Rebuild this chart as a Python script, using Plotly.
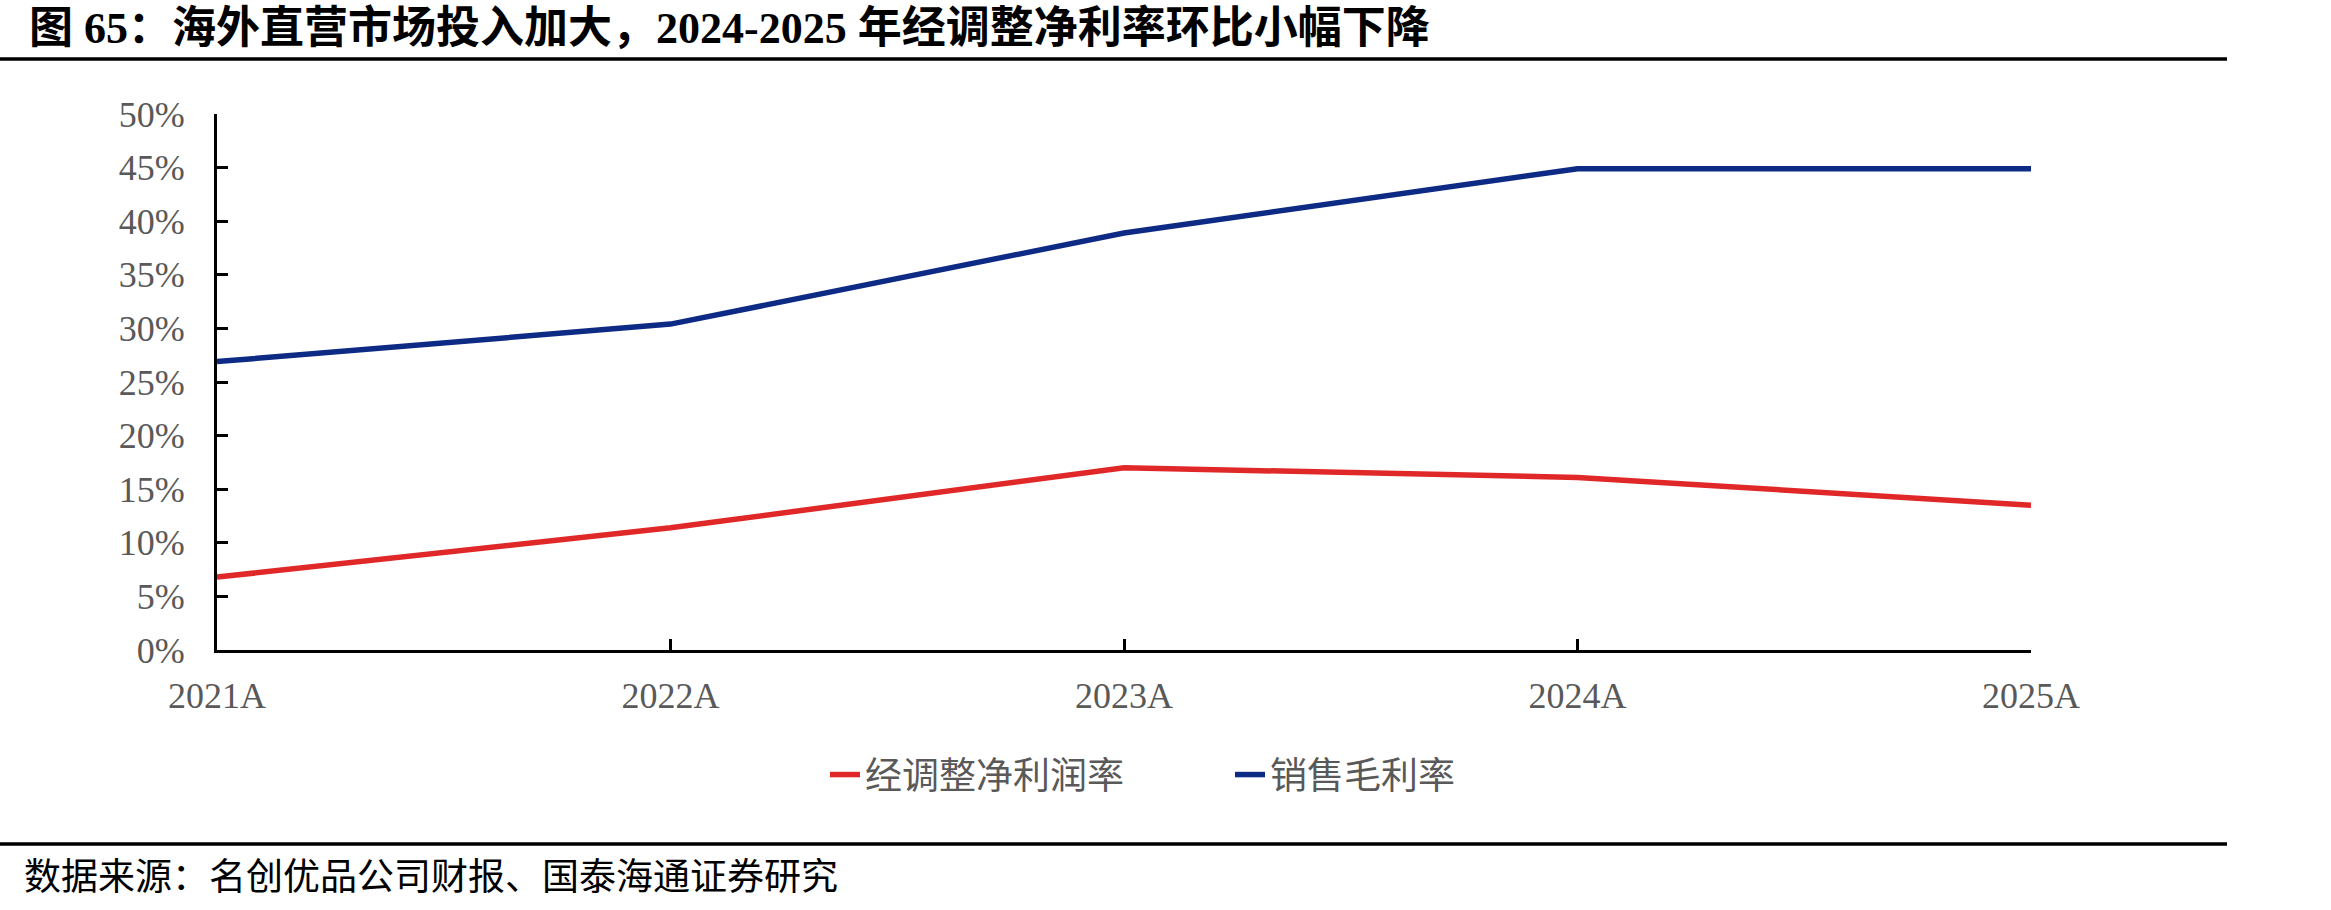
import plotly.graph_objects as go

categories = ["2021A", "2022A", "2023A", "2024A", "2025A"]
adj_net_margin = [6.8, 11.4, 17.0, 16.1, 13.5]   # 经调整净利润率 (%)
gross_margin = [26.9, 30.4, 38.9, 44.9, 44.9]    # 销售毛利率 (%)
y_ticks = [0, 5, 10, 15, 20, 25, 30, 35, 40, 45, 50]
y_tick_labels = [f"{v}%" for v in y_ticks]

title_text = "图 65：海外直营市场投入加大，2024-2025 年经调整净利率环比小幅下降"
source_text = "数据来源：名创优品公司财报、国泰海通证券研究"

W, H = 2331, 910
L, R, T, B = 217, 2331 - 2031, 114, 910 - 650
pw, ph = W - L - R, H - T - B

def px(x):
    return (x - L) / pw

def py(y):
    return (H - B - y) / ph

FONT = "Liberation Serif, 'Times New Roman', 'Noto Sans CJK SC', serif"
GREY = "#595959"

fig = go.Figure()
fig.add_trace(go.Scatter(x=categories, y=adj_net_margin, mode="lines", name="经调整净利润率",
                         line=dict(color="#E02828", width=5.5)))
fig.add_trace(go.Scatter(x=categories, y=gross_margin, mode="lines", name="销售毛利率",
                         line=dict(color="#0D2A84", width=5.5)))

fig.update_layout(
    width=W, height=H,
    margin=dict(l=L, r=R, t=T, b=B, autoexpand=False),
    paper_bgcolor="white", plot_bgcolor="white",
    font=dict(family=FONT, size=36, color=GREY),
    showlegend=True,
    legend=dict(orientation="h", x=px(825), xanchor="left", y=py(775), yanchor="middle",
                font=dict(family=FONT, size=37, color=GREY), entrywidth=360, entrywidthmode="pixels",
                bgcolor="rgba(0,0,0,0)", tracegroupgap=0),
    xaxis=dict(type="category", range=[0, 4], showgrid=False, zeroline=False,
               showline=True, linecolor="black", linewidth=3,
               ticks="inside", ticklen=11, tickwidth=3, tickcolor="black",
               tickfont=dict(family=FONT, size=36, color=GREY), ticklabelstandoff=12),
    yaxis=dict(range=[0, 50], tickmode="array", tickvals=y_ticks, ticktext=y_tick_labels,
               showgrid=False, zeroline=False,
               showline=True, linecolor="black", linewidth=3,
               ticks="inside", ticklen=11, tickwidth=3, tickcolor="black",
               tickfont=dict(family=FONT, size=36, color=GREY), ticklabelstandoff=22),
)

fig.add_annotation(text="<b>" + title_text + "</b>", xref="paper", yref="paper",
                   x=px(27), y=py(28), xanchor="left", yanchor="middle", showarrow=False,
                   font=dict(family=FONT, size=44, color="black"))
fig.add_annotation(text=source_text, xref="paper", yref="paper",
                   x=px(22), y=py(877), xanchor="left", yanchor="middle", showarrow=False,
                   font=dict(family=FONT, size=37, color="black"))

for yy in (59, 844):
    fig.add_shape(type="line", xref="paper", yref="paper", x0=px(0), x1=px(2227),
                  y0=py(yy), y1=py(yy), line=dict(color="black", width=3.5))

fig.write_html("out.html")
